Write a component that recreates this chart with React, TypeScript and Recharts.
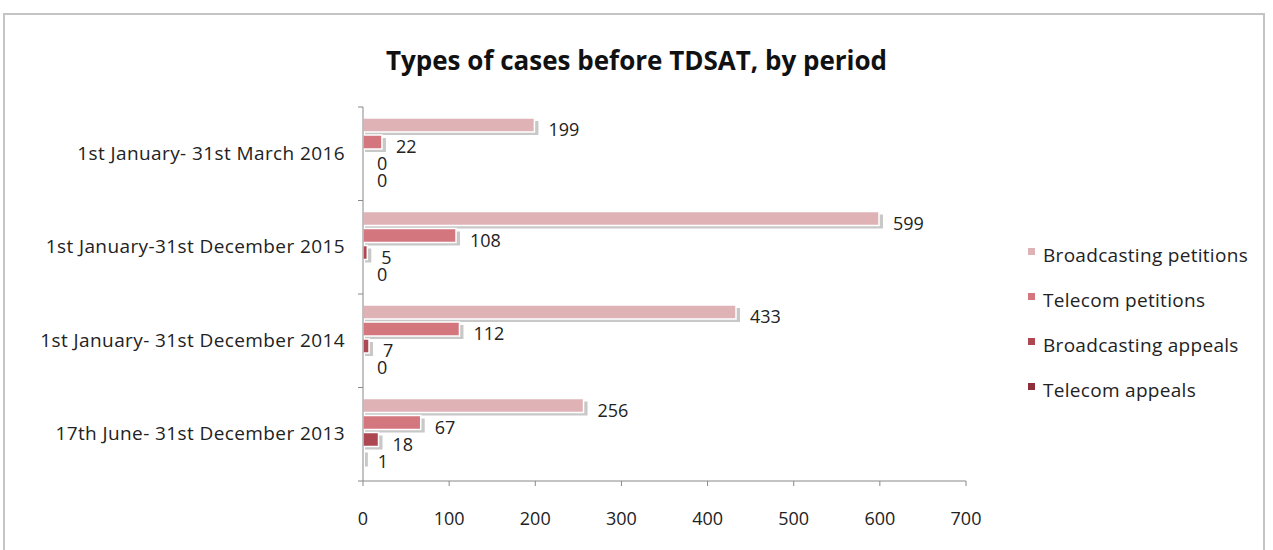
import React from 'react';
import { BarChart, Bar, XAxis, YAxis, LabelList } from 'recharts';

const periods = [
  '1st January- 31st March 2016',
  '1st January-31st December 2015',
  '1st January- 31st December 2014',
  '17th June- 31st December 2013',
];
const broadcastingPetitions = [199, 599, 433, 256];
const telecomPetitions = [22, 108, 112, 67];
const broadcastingAppeals = [0, 5, 7, 18];
const telecomAppeals = [0, 0, 0, 1];
const xTicks = [0, 100, 200, 300, 400, 500, 600, 700];

const SERIES = [
  { key: 'bp', name: 'Broadcasting petitions', color: '#dfb3b6', values: broadcastingPetitions },
  { key: 'tp', name: 'Telecom petitions', color: '#d3767d', values: telecomPetitions },
  { key: 'ba', name: 'Broadcasting appeals', color: '#ad4751', values: broadcastingAppeals },
  { key: 'ta', name: 'Telecom appeals', color: '#8c2f3a', values: telecomAppeals },
];

const data = periods.map((period, i) => {
  const row: Record<string, any> = { period };
  SERIES.forEach((s) => (row[s.key] = s.values[i]));
  return row;
});

const FONT = '"Open Sans", Lato, sans-serif';
const TOP = 107;
const BOTTOM = 481;
const HALF_BAND = (BOTTOM - TOP) / periods.length / 2;

// bar with a soft drop shadow and a white rim, Excel style
const ShadowBar = (props: any) => {
  const { x, width, height, fill } = props;
  const y = props.y - 3;
  if (!width || width <= 0) return null;
  return (
    <g>
      <rect x={x + 2} y={y + 3} width={width + 2} height={height} fill="#9a9a9a" opacity={0.55} />
      <rect x={x} y={y} width={width} height={height} fill={fill} stroke="#fff" strokeWidth={1.5} />
    </g>
  );
};

const CategoryTick = (props: any) => {
  const { x, y, payload, index } = props;
  const axisX = x + 18;
  return (
    <g>
      <line x1={axisX - 5} x2={axisX} y1={y - HALF_BAND} y2={y - HALF_BAND} stroke="#888" />
      {index === periods.length - 1 && (
        <line x1={axisX - 5} x2={axisX} y1={y + HALF_BAND} y2={y + HALF_BAND} stroke="#888" />
      )}
      <text
        x={x}
        y={y}
        dy={6}
        textAnchor="end"
        fill="#222"
        fontSize={19}
        letterSpacing={0.4}
        fontFamily={FONT}
      >
        {payload.value}
      </text>
    </g>
  );
};

const LegendBox = () => (
  <div
    style={{
      position: 'absolute',
      left: 1028,
      top: 232,
      fontFamily: FONT,
      fontSize: 19,
      letterSpacing: 0.3,
      color: '#222',
    }}
  >
    {SERIES.map((s) => (
      <div key={s.key} style={{ display: 'flex', alignItems: 'center', height: 45 }}>
        <span style={{ width: 7, height: 7, background: s.color, marginRight: 8, marginTop: -6 }} />
        {s.name}
      </div>
    ))}
  </div>
);

export default function App() {
  return (
    <div style={{ position: 'absolute', left: 0, top: 0, width: 1273, height: 550, background: '#fff' }}>
      <div
        style={{
          position: 'absolute',
          left: 3,
          top: 13,
          width: 1262,
          height: 540,
          border: '2px solid #c4c4c4',
          boxSizing: 'border-box',
        }}
      />
      <div
        style={{
          position: 'absolute',
          top: 42,
          width: 1273,
          textAlign: 'center',
          fontFamily: FONT,
          fontWeight: 700,
          fontSize: 26,
          color: '#111',
        }}
      >
        Types of cases before TDSAT, by period
      </div>
      <div style={{ position: 'absolute', left: 0, top: 0 }}>
        <BarChart
          width={1273}
          height={550}
          data={data}
          layout="vertical"
          margin={{ top: TOP, right: 307, left: 0, bottom: 550 - BOTTOM - 50 }}
          barSize={14}
          barGap={3}
        >
          <XAxis
            type="number"
            domain={[0, 700]}
            ticks={xTicks}
            interval={0}
            axisLine={{ stroke: '#888' }}
            tickLine={{ stroke: '#888' }}
            tickSize={5}
            tickMargin={26}
            height={50}
            tick={{ fill: '#222', fontSize: 18, fontFamily: FONT }}
          />
          <YAxis
            type="category"
            dataKey="period"
            width={363}
            axisLine={{ stroke: '#888' }}
            tickLine={false}
            tick={<CategoryTick />}
            tickMargin={13}
            tickSize={5}
          />
          {SERIES.map((s) => (
            <Bar
              key={s.key}
              dataKey={s.key}
              name={s.name}
              fill={s.color}
              shape={<ShadowBar />}
              isAnimationActive={false}
            >
              <LabelList
                dataKey={s.key}
                position="right"
                offset={14}
                fill="#222"
                fontSize={18}
                fontFamily={FONT}
                dy={2}
              />
            </Bar>
          ))}
        </BarChart>
      </div>
      <LegendBox />
    </div>
  );
}
